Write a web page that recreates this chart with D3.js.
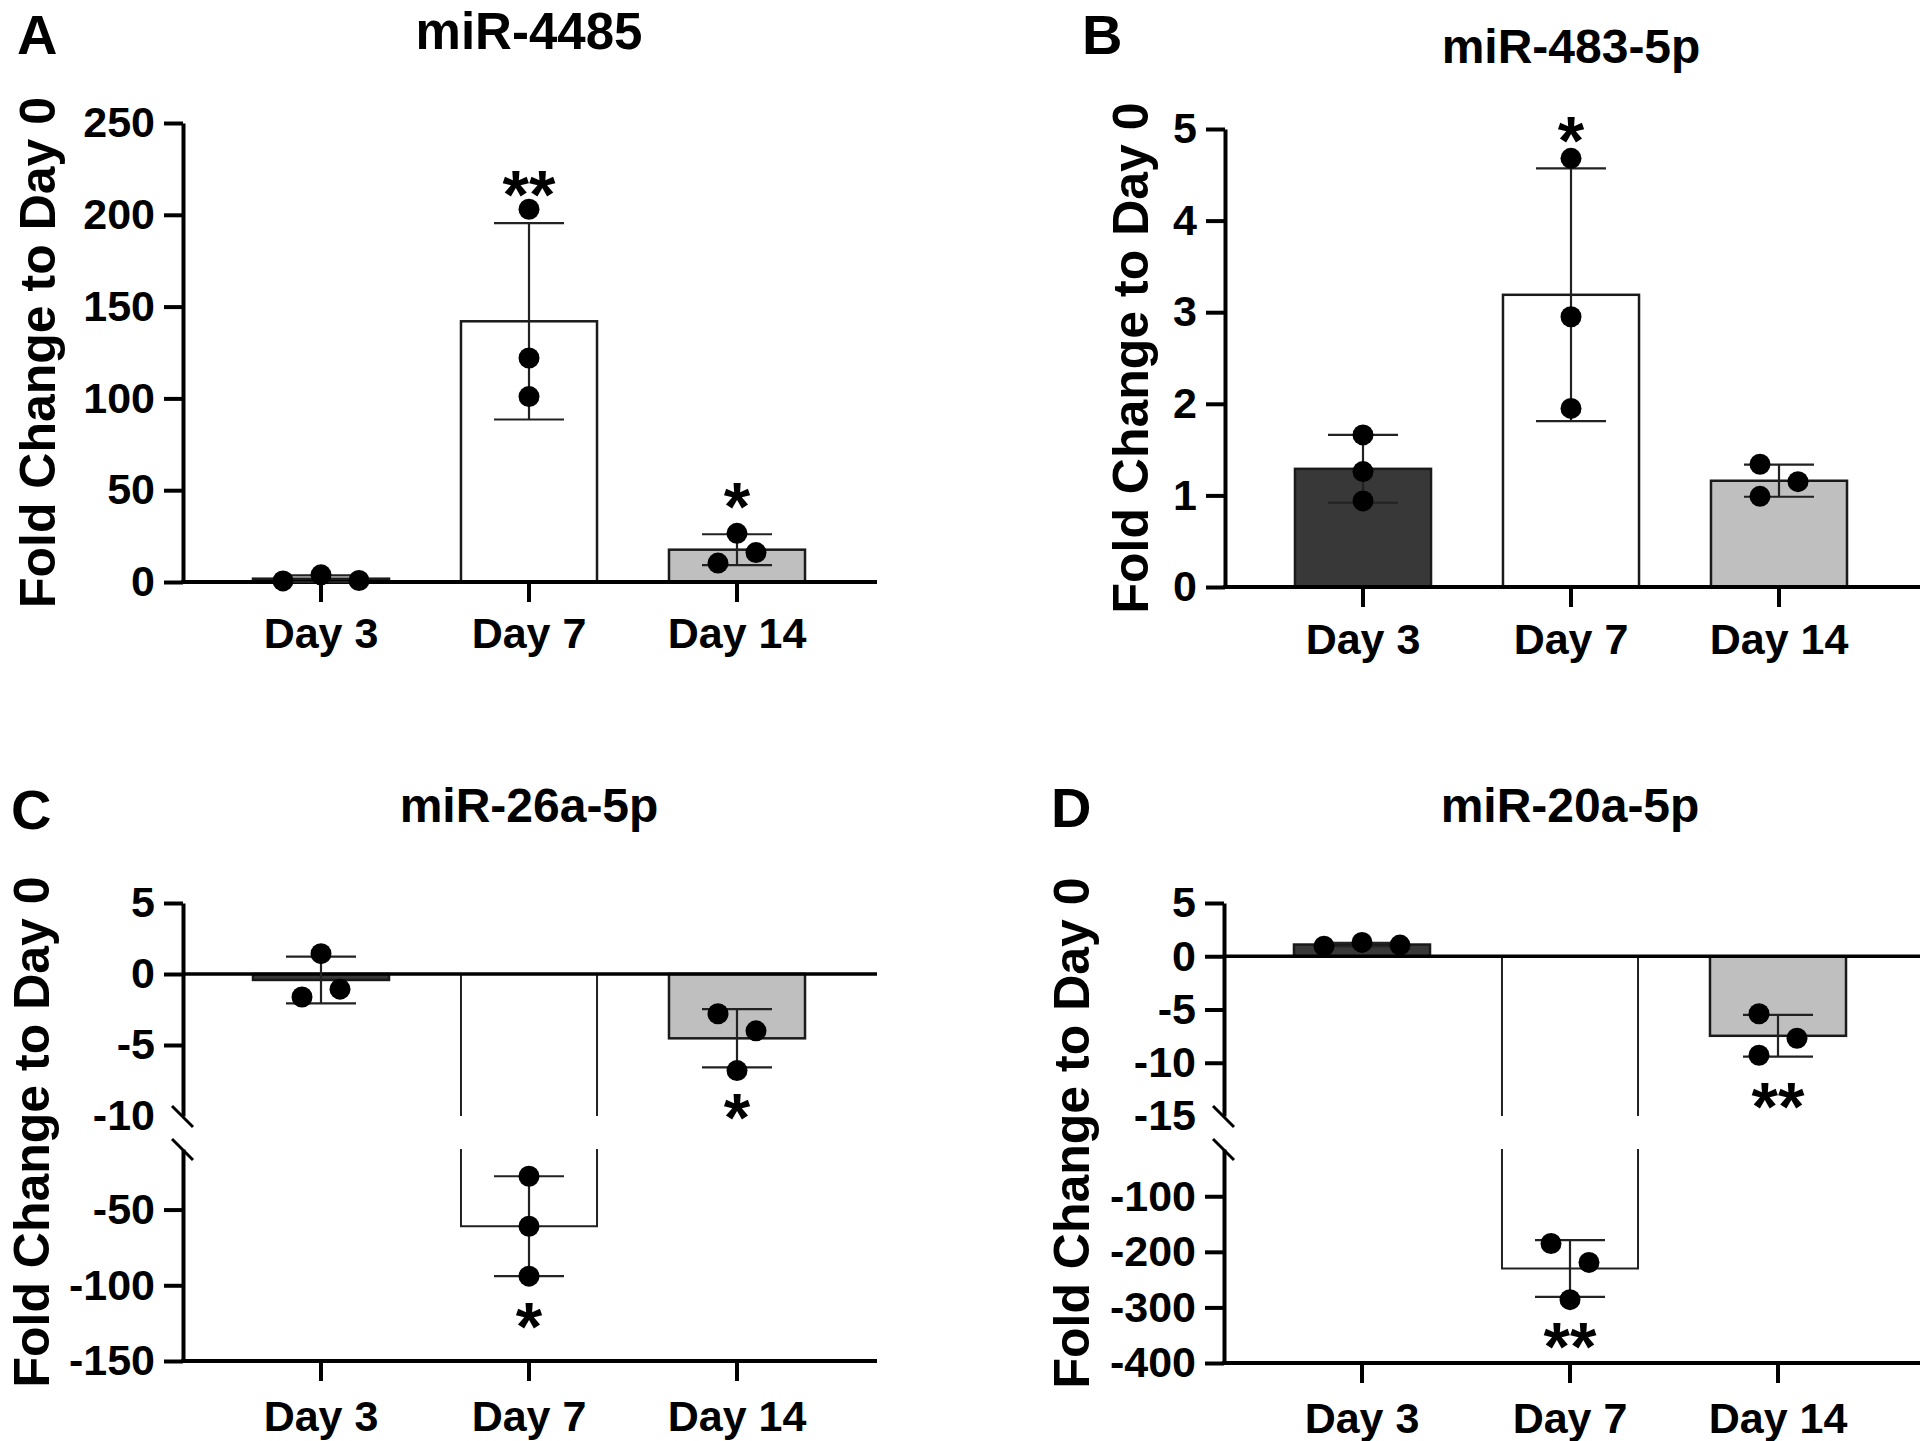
<!DOCTYPE html>
<html><head><meta charset="utf-8">
<script src="https://cdn.jsdelivr.net/npm/d3@7"></script>
<style>
body{margin:0;background:#fff;}
svg{display:block;background:#fff;}
text{font-family:"Liberation Sans",Arial,Helvetica,sans-serif;font-weight:bold;fill:#000;}
</style></head><body>
<svg id="chart" width="1920" height="1441"></svg>
<script>
// ---------------- DATA ----------------
const categories = ["Day 3", "Day 7", "Day 14"];
const yAxisLabel = "Fold Change to Day 0";

// Panel A: miR-4485
const aTitle = "miR-4485";
const aMeans = [1.8, 142, 17.6];
const aSDs = [1.85, 53.5, 8.4];
const aPoints = [[0.6, 3.9, 0.8], [203, 122, 101], [26.5, 16, 10.3]];
const aSig = ["", "**", "*"];
const aTicks = [0, 50, 100, 150, 200, 250];

// Panel B: miR-483-5p
const bTitle = "miR-483-5p";
const bMeans = [1.29, 3.19, 1.16];
const bSDs = [0.37, 1.38, 0.175];
const bPoints = [[1.66, 1.26, 0.94], [4.68, 2.95, 1.95], [1.34, 1.15, 0.99]];
const bSig = ["", "*", ""];
const bTicks = [0, 1, 2, 3, 4, 5];

// Panel C: miR-26a-5p (broken axis)
const cTitle = "miR-26a-5p";
const cMeans = [-0.42, -61, -4.53];
const cSDs = [1.65, 33, 2.05];
const cPoints = [[1.43, -1.62, -1.07], [-28, -61, -94], [-2.8, -4.0, -6.8]];
const cSig = ["", "*", "*"];
const cTicksUpper = [5, 0, -5, -10];
const cTicksLower = [-50, -100, -150];

// Panel D: miR-20a-5p (broken axis)
const dTitle = "miR-20a-5p";
const dMeans = [1.1, -230, -7.47];
const dSDs = [0.16, 51, 1.96];
const dPoints = [[0.95, 1.3, 1.05], [-185, -219, -286], [-5.4, -7.7, -9.3]];
const dSig = ["", "**", "**"];
const dTicksUpper = [5, 0, -5, -10, -15];
const dTicksLower = [-100, -200, -300, -400];

// ---------------- LAYOUT / STYLE ----------------
const barFills = ["#383838", "#ffffff", "#bfbfbf"];
const dotStep = 19, dotR = 10.5, capHalf = 35;
const panels = [
  {letter: "A", lx: 17, ly: 54, title: aTitle, titleFs: 51, ty: 49, labX: 55, axisX: 183, xEnd: 877, xlabOff: 66,
   means: aMeans, sds: aSDs, pts: aPoints, sig: aSig, cols: [[-2, 0, 2], [0, 0, 0], [0, 1, -1]],
   segs: [{domain: [0, 250], range: [582, 123], ticks: aTicks, bare: []}]},
  {letter: "B", lx: 1082, ly: 54, title: bTitle, titleFs: 48, ty: 63, labX: 1148, axisX: 1225, xEnd: 1920, xlabOff: 67,
   means: bMeans, sds: bSDs, pts: bPoints, sig: bSig, cols: [[0, 0, 0], [0, 0, 0], [-1, 1, -1]],
   segs: [{domain: [0, 5], range: [587, 129], ticks: bTicks, bare: []}]},
  {letter: "C", lx: 11, ly: 829, title: cTitle, titleFs: 48, ty: 822, labX: 49, axisX: 183, xEnd: 877, xlabOff: 70,
   means: cMeans, sds: cSDs, pts: cPoints, sig: cSig, cols: [[0, -1, 1], [0, 0, 0], [-1, 1, 0]],
   segs: [{domain: [-10, 5], range: [1116, 903], ticks: cTicksUpper, bare: [-10]},
          {domain: [-150, -10], range: [1361, 1149], ticks: cTicksLower, bare: []}]},
  {letter: "D", lx: 1051, ly: 827, title: dTitle, titleFs: 48, ty: 822, labX: 1089, axisX: 1224, xEnd: 1920, xlabOff: 70,
   means: dMeans, sds: dSDs, pts: dPoints, sig: dSig, cols: [[-2, 0, 2], [-1, 1, 0], [-1, 1, -1]],
   segs: [{domain: [-15, 5], range: [1116, 903], ticks: dTicksUpper, bare: [-15]},
          {domain: [-400, -15], range: [1363, 1149], ticks: dTicksLower, bare: []}]}
];

const svg = d3.select("#chart");

panels.forEach(p => {
  const g = svg.append("g");
  p.segs.forEach(s => { s.scale = d3.scaleLinear().domain(s.domain).range(s.range); });
  const segs = p.segs;
  const yOf = v => {
    let s = segs.find(s => v >= s.domain[0] && v <= s.domain[1]);
    if (!s) s = v > segs[0].domain[1] ? segs[0] : segs[segs.length - 1];
    return s.scale(v);
  };
  const x = d3.scaleBand().domain(categories)
    .range([p.axisX + 34, p.axisX + 658]).paddingInner(0.346).paddingOuter(0.173);
  const bw = x.bandwidth();
  const lowSeg = segs[segs.length - 1];
  const baseY = lowSeg.scale(lowSeg.domain[0]);
  const topY = segs[0].range[1];

  // bars
  const barG = g.append("g");
  categories.forEach((c, i) => {
    const m = p.means[i], x0 = x(c);
    if (segs.length === 2 && m < segs[0].domain[0]) {
      const up = segs[0], lo = segs[1];
      const yz = up.scale(0), yb1 = up.range[0], yb2 = lo.range[1], ym = lo.scale(m);
      barG.append("rect").attr("x", x0).attr("y", yz).attr("width", bw).attr("height", yb1 - yz).attr("fill", barFills[i]);
      barG.append("path").attr("d", `M${x0},${yz}V${yb1}M${x0 + bw},${yz}V${yb1}`)
        .attr("fill", "none").attr("stroke", "#222").attr("stroke-width", 2);
      barG.append("rect").attr("x", x0).attr("y", yb2).attr("width", bw).attr("height", ym - yb2).attr("fill", barFills[i]);
      barG.append("path").attr("d", `M${x0},${yb2}V${ym}H${x0 + bw}V${yb2}`)
        .attr("fill", "none").attr("stroke", "#222").attr("stroke-width", 2);
    } else {
      const y0 = yOf(0), y1 = yOf(m);
      barG.append("rect").attr("x", x0).attr("y", Math.min(y0, y1)).attr("width", bw)
        .attr("height", Math.abs(y1 - y0)).attr("fill", barFills[i])
        .attr("stroke", "#1a1a1a").attr("stroke-width", 2.5);
    }
  });

  // y axes
  segs.forEach(s => {
    const ag = g.append("g").attr("transform", `translate(${p.axisX},0)`)
      .call(d3.axisLeft(s.scale).tickValues(s.ticks).tickSize(19).tickSizeOuter(0).tickPadding(9).tickFormat(d => String(d)));
    ag.attr("font-size", 43).attr("font-family", null);
    ag.select(".domain").attr("stroke", "#000").attr("stroke-width", 4);
    ag.selectAll(".tick line").attr("stroke", "#000").attr("stroke-width", 4)
      .filter(d => s.bare.includes(d)).remove();
    ag.selectAll(".tick text").attr("fill", "#000");
  });
  // break marks
  if (segs.length === 2) {
    [segs[0].range[0], segs[1].range[1]].forEach(yb => {
      g.append("line").attr("x1", p.axisX - 11).attr("y1", yb - 10).attr("x2", p.axisX + 10).attr("y2", yb + 11)
        .attr("stroke", "#000").attr("stroke-width", 3);
    });
    // zero line
    g.append("line").attr("x1", p.axisX).attr("x2", p.xEnd).attr("y1", yOf(0)).attr("y2", yOf(0))
      .attr("stroke", "#000").attr("stroke-width", 3.5);
  }

  // x axis
  const xg = g.append("g").attr("transform", `translate(0,${baseY})`)
    .call(d3.axisBottom(x).tickSize(20).tickSizeOuter(0));
  xg.attr("font-size", 43).attr("font-family", null);
  xg.select(".domain").remove();
  xg.selectAll(".tick line").attr("stroke", "#000").attr("stroke-width", 4);
  xg.selectAll(".tick text").attr("y", p.xlabOff).attr("dy", 0).attr("fill", "#000");
  g.append("line").attr("x1", p.axisX - 2).attr("x2", p.xEnd).attr("y1", baseY).attr("y2", baseY)
    .attr("stroke", "#000").attr("stroke-width", 4);

  // error bars
  categories.forEach((c, i) => {
    const cx = x(c) + bw / 2;
    const yHi = yOf(p.means[i] + p.sds[i]), yLo = yOf(p.means[i] - p.sds[i]);
    g.append("path").attr("d", `M${cx},${yHi}V${yLo}M${cx - capHalf},${yHi}H${cx + capHalf}M${cx - capHalf},${yLo}H${cx + capHalf}`)
      .attr("fill", "none").attr("stroke", "#222").attr("stroke-width", 2.2);
  });

  // dots
  categories.forEach((c, i) => {
    const cx = x(c) + bw / 2;
    p.pts[i].forEach((v, j) => {
      g.append("circle").attr("cx", cx + p.cols[i][j] * dotStep).attr("cy", yOf(v)).attr("r", dotR).attr("fill", "#000");
    });
  });

  // significance stars
  const starFs = 68;
  categories.forEach((c, i) => {
    if (!p.sig[i]) return;
    const cx = x(c) + bw / 2;
    const m = p.means[i];
    const cy = m >= 0 ? yOf(m + p.sds[i]) - 42 : yOf(m - p.sds[i]) + 36;
    g.append("text").attr("x", cx).attr("y", cy + starFs * 0.55).attr("text-anchor", "middle")
      .attr("font-size", starFs).text(p.sig[i]);
  });

  // titles & labels
  g.append("text").attr("x", x("Day 7") + bw / 2).attr("y", p.ty).attr("text-anchor", "middle")
    .attr("font-size", p.titleFs).text(p.title);
  g.append("text").attr("x", p.lx).attr("y", p.ly).attr("font-size", 56).text(p.letter);
  g.append("text").attr("transform", `translate(${p.labX},${(topY + baseY) / 2}) rotate(-90)`)
    .attr("text-anchor", "middle").attr("font-size", 50).text(yAxisLabel);
});
</script>
</body></html>
